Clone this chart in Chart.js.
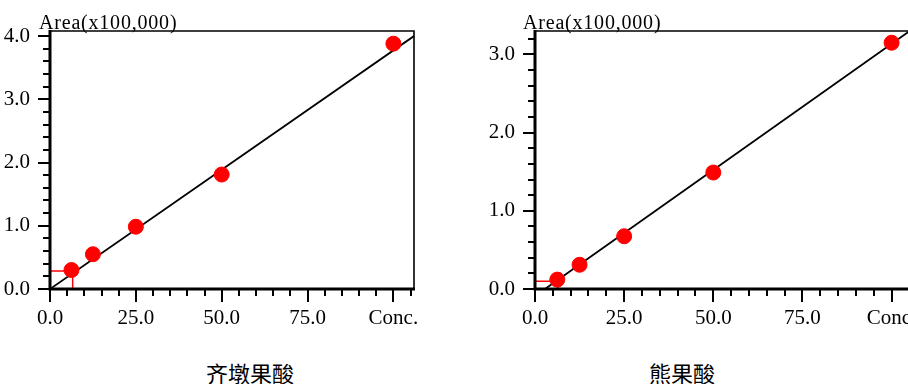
<!DOCTYPE html>
<html>
<head>
<meta charset="utf-8">
<script src="https://cdn.jsdelivr.net/npm/chart.js@4.4.1/dist/chart.umd.min.js"></script>
<style>
  html, body { margin: 0; padding: 0; background: #fff; }
  body { width: 908px; height: 384px; overflow: hidden; position: relative; }
  canvas { position: absolute; top: 0; }
  .title { position: absolute; top: 359px; font: 22px "Noto Sans CJK SC"; line-height: 26px; color: #000; transform: translateX(-50%); white-space: nowrap; }
</style>
</head>
<body>
<canvas id="left" width="454" height="340" style="left:0"></canvas>
<canvas id="right" width="470" height="340" style="left:454px"></canvas>
<div class="title" style="left:250px">齐墩果酸</div>
<div class="title" style="left:682px">熊果酸</div>
<script>
// concentration levels (x) shared by both standards
const concLevels = [6.25, 12.5, 25, 50, 100];
// peak area, x100,000
const oleanolicArea = [0.30, 0.55, 0.985, 1.81, 3.88];
const ursolicArea = [0.12, 0.31, 0.675, 1.49, 3.15];
// calibration line end points
const oleanolicFitX = [0, 106];
const oleanolicFitY = [0, 4.0];
const ursolicFitX = [2.8, 106];
const ursolicFitY = [0, 3.33];
// red marker on the lowest standard
const oleanolicMarkX = [0, 6.6, 6.6];
const oleanolicMarkY = [0.285, 0.285, 0];
const ursolicMarkX = [0, 6.5, 6.5];
const ursolicMarkY = [0.1, 0.1, 0];
// tick labels
const xTickValues = [0, 25, 50, 75, 100];
const xTickLabels = ['0.0', '25.0', '50.0', '75.0', 'Conc.'];
const yAxisLabel = 'Area(x100,000)';

const toPoints = (xs, ys) => xs.map((x, i) => ({ x: x, y: ys[i] }));
const serif = '"Liberation Serif", "DejaVu Serif", serif';

// frame, minor/major ticks and the area label
const framePlugin = {
  id: 'frame',
  afterDraw(chart, args, opts) {
    const ctx = chart.ctx;
    const a = chart.chartArea;
    const xs = chart.scales.x, ys = chart.scales.y;
    ctx.save();
    ctx.strokeStyle = '#000';
    ctx.lineWidth = 2;
    for (let v = 0; v <= xs.max + 1e-9; v += 5) {
      const px = Math.round(xs.getPixelForValue(v));
      const len = v % 25 === 0 ? 13 : 7;
      ctx.beginPath();
      ctx.moveTo(px, a.bottom);
      ctx.lineTo(px, a.bottom + len);
      ctx.stroke();
    }
    const kmax = Math.floor(ys.max * 5 + 1e-6);
    for (let k = 0; k <= kmax; k++) {
      const py = Math.round(ys.getPixelForValue(k / 5));
      const len = k % 5 === 0 ? 12 : 7;
      ctx.beginPath();
      ctx.moveTo(a.left - len, py);
      ctx.lineTo(a.left, py);
      ctx.stroke();
    }
    // box: thin top/right, heavy left/bottom
    ctx.lineWidth = 1.6;
    ctx.beginPath();
    ctx.moveTo(a.left, a.top);
    ctx.lineTo(a.right, a.top);
    ctx.lineTo(a.right, a.bottom);
    ctx.stroke();
    ctx.lineWidth = 3;
    ctx.beginPath();
    ctx.moveTo(a.left, a.top - 1);
    ctx.lineTo(a.left, a.bottom);
    ctx.lineTo(a.right + 1, a.bottom);
    ctx.stroke();
    ctx.fillStyle = '#000';
    ctx.font = '20px ' + serif;
    ctx.letterSpacing = '0.8px';
    ctx.textBaseline = 'alphabetic';
    ctx.fillText(yAxisLabel, opts.labelX, 29);
    ctx.restore();
  }
};

function makeChart(id, area, fitX, fitY, markX, markY, yMax, yWidth, padRight, labelX) {
  return new Chart(document.getElementById(id), {
    type: 'scatter',
    data: {
      datasets: [
        {
          data: toPoints(concLevels, area),
          backgroundColor: '#ff0000',
          borderColor: '#ff0000',
          pointRadius: 7.5,
          pointHoverRadius: 7.5,
        },
        {
          data: toPoints(markX, markY),
          showLine: true,
          borderColor: '#ff0000',
          borderWidth: 1.5,
          pointRadius: 0,
        },
        {
          data: toPoints(fitX, fitY),
          showLine: true,
          borderColor: '#000',
          borderWidth: 1.8,
          pointRadius: 0,
        },
      ],
    },
    options: {
      responsive: false,
      animation: false,
      events: [],
      layout: { padding: { top: 31, right: padRight, left: 0, bottom: 0 } },
      plugins: {
        legend: { display: false },
        tooltip: { enabled: false },
        frame: { labelX: labelX },
      },
      scales: {
        x: {
          type: 'linear',
          min: 0,
          max: 106,
          border: { display: false },
          grid: { display: false },
          afterFit: (s) => { s.height = 51; },
          ticks: {
            stepSize: 5,
            includeBounds: false,
            autoSkip: false,
            maxRotation: 0,
            padding: 9,
            color: '#000',
            font: { family: serif, size: 21 },
            callback: (v) => {
              const i = xTickValues.indexOf(v);
              return i < 0 ? '' : xTickLabels[i];
            },
          },
        },
        y: {
          min: 0,
          max: yMax,
          border: { display: false },
          grid: { display: false },
          afterFit: (s) => { s.width = yWidth; },
          ticks: {
            stepSize: 0.2,
            includeBounds: false,
            autoSkip: false,
            padding: 12,
            color: '#000',
            font: { family: serif, size: 21 },
            callback: (v) => Math.abs(v - Math.round(v)) < 1e-6 ? Math.round(v).toFixed(1) : '',
          },
        },
      },
    },
    plugins: [framePlugin],
  });
}

makeChart('left', oleanolicArea, oleanolicFitX, oleanolicFitY, oleanolicMarkX, oleanolicMarkY, 4.08, 50, 40, 39);
makeChart('right', ursolicArea, ursolicFitX, ursolicFitY, ursolicMarkX, ursolicMarkY, 3.30, 81, 11, 69);
</script>
</body>
</html>
